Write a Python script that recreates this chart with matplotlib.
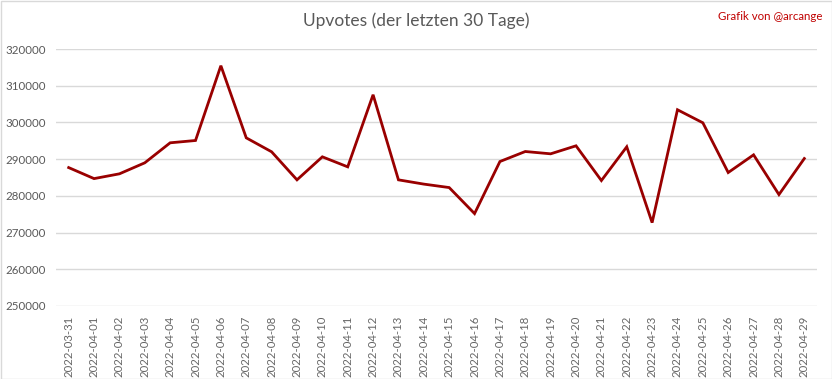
import matplotlib
matplotlib.use("Agg")
import matplotlib.pyplot as plt
from matplotlib.patches import Rectangle

dates = ["2022-03-31", "2022-04-01", "2022-04-02", "2022-04-03", "2022-04-04",
         "2022-04-05", "2022-04-06", "2022-04-07", "2022-04-08", "2022-04-09",
         "2022-04-10", "2022-04-11", "2022-04-12", "2022-04-13", "2022-04-14",
         "2022-04-15", "2022-04-16", "2022-04-17", "2022-04-18", "2022-04-19",
         "2022-04-20", "2022-04-21", "2022-04-22", "2022-04-23", "2022-04-24",
         "2022-04-25", "2022-04-26", "2022-04-27", "2022-04-28", "2022-04-29"]
upvotes = [287700, 284700, 286000, 289000, 294450, 295080, 315450, 295800, 292000, 284360,
           290630, 287900, 307540, 284360, 283200, 282260, 275170, 289350, 292080, 291450,
           293630, 284170, 293360, 272710, 303450, 299900, 286350, 291170, 280350, 290170]
yticks = [250000, 260000, 270000, 280000, 290000, 300000, 310000, 320000]

plt.rcParams['font.family'] = ['Lato', 'DejaVu Sans']

fig = plt.figure(figsize=(8.32, 3.79), dpi=100)
fig.patch.set_facecolor('white')
fig.patches.append(Rectangle((0.5/832, 0.5/379), 1 - 1/832, 1 - 1/379, transform=fig.transFigure,
                             fill=False, edgecolor='#d9d9d9', linewidth=1))

ax = fig.add_axes([56/832, 1 - 306/379, (817 - 56)/832, (306 - 49)/379])
x = list(range(len(dates)))
ax.plot(x, upvotes, color='#990000', linewidth=2, solid_joinstyle='miter')
ax.set_xlim(-0.5, len(dates) - 0.5)
ax.set_ylim(yticks[0], yticks[-1])
ax.set_yticks(yticks)
ax.set_yticklabels([str(v) for v in yticks], color='#595959', fontsize=8.3)
ax.set_xticks(x)
ax.set_xticklabels(dates, rotation=90, color='#666666', fontsize=8.2)
ax.tick_params(axis='both', length=0, pad=7)
ax.grid(axis='y', color='#d9d9d9', linewidth=1)
ax.set_axisbelow(True)
for s in ax.spines.values():
    s.set_visible(False)

fig.text(416/832, 1 - 21/379, "Upvotes (der letzten 30 Tage)", ha='center', va='center',
         fontsize=12.5, color='#595959')
fig.text(822/832, 1 - 16/379, "Grafik von @arcange", ha='right', va='center',
         fontsize=8.3, color='#c00000')

fig.savefig("out.png", dpi=100)
